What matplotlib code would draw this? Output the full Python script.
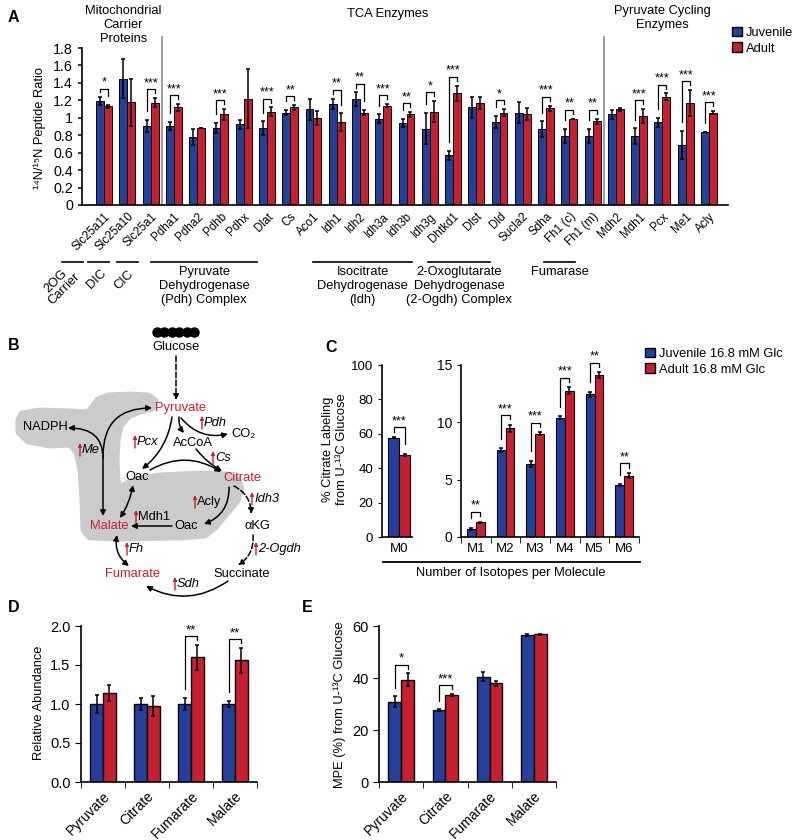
import numpy as np
import matplotlib
matplotlib.use('Agg')
import matplotlib.pyplot as plt
from matplotlib import transforms
from matplotlib.patches import Polygon, Patch

plt.rcParams['font.family'] = ['Liberation Sans', 'DejaVu Sans']

BLUE = '#253f9c'
RED = '#c8202f'
W, H = 800, 840

# ---------------- data: panel A ----------------
genes = ['Slc25a11', 'Slc25a10', 'Slc25a1', 'Pdha1', 'Pdha2', 'Pdhb', 'Pdhx', 'Dlat', 'Cs', 'Aco1',
         'Idh1', 'Idh2', 'Idh3a', 'Idh3b', 'Idh3g', 'Dhtkd1', 'Dlst', 'Dld', 'Sucla2', 'Sdha',
         'Fh1 (c)', 'Fh1 (m)', 'Mdh2', 'Mdh1', 'Pcx', 'Me1', 'Acly']
juv = [1.19, 1.45, 0.905, 0.905, 0.78, 0.88, 0.925, 0.88, 1.06, 1.10,
       1.16, 1.21, 0.99, 0.94, 0.875, 0.57, 1.12, 0.955, 1.06, 0.87,
       0.79, 0.79, 1.04, 0.79, 0.95, 0.69, 0.835]
juv_err = [0.045, 0.22, 0.07, 0.05, 0.09, 0.06, 0.05, 0.08, 0.03, 0.12,
           0.06, 0.08, 0.05, 0.05, 0.18, 0.05, 0.12, 0.07, 0.12, 0.09,
           0.08, 0.08, 0.05, 0.09, 0.05, 0.16, 0.0]
adu = [1.13, 1.18, 1.175, 1.12, 0.88, 1.04, 1.22, 1.07, 1.12, 1.0,
       0.95, 1.06, 1.14, 1.04, 1.07, 1.28, 1.17, 1.06, 1.04, 1.11,
       0.99, 0.96, 1.095, 1.02, 1.24, 1.17, 1.06]
adu_err = [0.02, 0.27, 0.05, 0.04, 0.0, 0.06, 0.34, 0.05, 0.03, 0.08,
           0.10, 0.03, 0.02, 0.03, 0.12, 0.09, 0.07, 0.04, 0.07, 0.03,
           0.0, 0.03, 0.02, 0.08, 0.04, 0.15, 0.02]
sig_a = ['*', '', '***', '***', '', '***', '', '***', '**', '', '**', '**', '***', '**', '*',
         '***', '', '*', '', '***', '**', '**', '', '***', '***', '***', '***']
yticks_a = [0, 0.2, 0.4, 0.6, 0.8, 1.0, 1.2, 1.4, 1.6, 1.8]
ytick_labels_a = ['0', '0.2', '0.4', '0.6', '0.8', '1', '1.2', '1.4', '1.6', '1.8']

# ---------------- data: panel C ----------------
isotopes = ['M0', 'M1', 'M2', 'M3', 'M4', 'M5', 'M6']
c_juv = [57.8, 0.70, 7.58, 6.38, 10.41, 12.45, 4.52]
c_juv_err = [0.5, 0.12, 0.15, 0.25, 0.1, 0.2, 0.08]
c_adu = [47.8, 1.28, 9.48, 9.0, 12.74, 14.1, 5.36]
c_adu_err = [0.6, 0.07, 0.3, 0.12, 0.3, 0.25, 0.2]
sig_c = ['***', '**', '***', '***', '***', '**', '**']

# ---------------- data: panels D, E ----------------
metabolites = ['Pyruvate', 'Citrate', 'Fumarate', 'Malate']
d_juv = [1.0, 1.0, 1.0, 1.0]
d_juv_err = [0.12, 0.08, 0.08, 0.04]
d_adu = [1.14, 0.97, 1.60, 1.56]
d_adu_err = [0.10, 0.13, 0.16, 0.16]
sig_d = ['', '', '**', '**']
e_juv = [30.9, 27.7, 40.5, 56.5]
e_juv_err = [2.0, 0.3, 1.8, 0.3]
e_adu = [39.3, 33.5, 38.0, 56.9]
e_adu_err = [2.5, 0.5, 1.0, 0.2]
sig_e = ['*', '***', '', '']

fig = plt.figure(figsize=(8, 8.4), dpi=100)


def px_axes(l, t, r, b):
    return fig.add_axes([l / W, 1 - b / H, (r - l) / W, (b - t) / H])


def style(ax):
    for s in ['top', 'right']:
        ax.spines[s].set_visible(False)
    for s in ['left', 'bottom']:
        ax.spines[s].set_linewidth(1.2)


def bars(ax, x, a, ae, b, be, w, lw=0.8):
    ek = dict(elinewidth=1.1, capsize=1.6, capthick=1.1, ecolor='k')
    ax.bar(x - w / 2, a, w, color=BLUE, edgecolor='k', lw=lw, yerr=ae, error_kw=ek)
    ax.bar(x + w / 2, b, w, color=RED, edgecolor='k', lw=lw, yerr=be, error_kw=ek)


def bracket(ax, x, w, hb, hr, stars, d, fs=9):
    if not stars:
        return
    top = max(hb, hr) + d
    short = d * 0.45
    xl, xr = x - w / 2, x + w / 2
    yl = min(top - short, hb + d)
    yr = min(top - short, hr + d)
    ax.plot([xl, xl, xr, xr], [yl, top, top, yr], color='k', lw=0.9, clip_on=False)
    ax.text((xl + xr) / 2, top, stars, ha='center', va='bottom', fontsize=fs)


# ---------------- panel A ----------------
axA = px_axes(82, 48, 728, 205)
xa = np.arange(len(genes))
wa = 0.34
bars(axA, xa, juv, juv_err, adu, adu_err, wa, lw=0.7)
for i in range(len(genes)):
    bracket(axA, xa[i], wa, juv[i] + juv_err[i], adu[i] + adu_err[i], sig_a[i], 0.1)
axA.set_xlim(-0.95, 26.82)
axA.set_ylim(0, 1.8)
axA.set_yticks(yticks_a)
axA.set_yticklabels(ytick_labels_a, fontsize=10.3)
axA.set_xticks(xa)
axA.set_xticklabels(genes, rotation=45, ha='right', rotation_mode='anchor', fontsize=8.4)
axA.tick_params(axis='x', length=0, pad=4)
axA.tick_params(axis='y', length=3, width=1.1)
style(axA)
for xs in [2.5, 21.5]:
    axA.plot([xs, xs], [0, 1.93], color='#808080', lw=1.1, clip_on=False)

# ---------------- panel C ----------------
axC0 = px_axes(382, 365, 412, 537)
bars(axC0, np.array([0.0]), c_juv[:1], c_juv_err[:1], c_adu[:1], c_adu_err[:1], 0.37)
bracket(axC0, 0.0, 0.37, c_juv[0] + c_juv_err[0], c_adu[0] + c_adu_err[0], sig_c[0], 5.5)
axC0.set_xlim(-0.57, 0.43)
axC0.set_ylim(0, 100)
axC0.set_yticks([0, 20, 40, 60, 80, 100])
axC0.set_xticks([0])
axC0.set_xticklabels(isotopes[:1], fontsize=9.5)
axC0.tick_params(axis='x', length=0, pad=4)
axC0.tick_params(axis='y', length=3, labelsize=9.5)
style(axC0)

axC1 = px_axes(461, 365, 639, 537)
xc = np.arange(6)
bars(axC1, xc, c_juv[1:], c_juv_err[1:], c_adu[1:], c_adu_err[1:], 0.3)
for i in range(6):
    bracket(axC1, xc[i], 0.3, c_juv[i + 1] + c_juv_err[i + 1], c_adu[i + 1] + c_adu_err[i + 1],
            sig_c[i + 1], 0.85)
axC1.set_xlim(-0.5, 5.5)
axC1.set_ylim(0, 15)
axC1.set_yticks([0, 5, 10, 15])
axC1.set_xticks(xc)
axC1.set_xticklabels(isotopes[1:], fontsize=9.5)
axC1.set_xticks(np.arange(-0.5, 6, 1), minor=True)
axC1.tick_params(axis='x', which='major', length=0, pad=4)
axC1.tick_params(axis='x', which='minor', length=4)
axC1.tick_params(axis='y', length=3, labelsize=10)
style(axC1)


# ---------------- panels D, E ----------------
def small_panel(rect, a, ae, b, be, sig, ymax, ystep, fmt, d):
    ax = px_axes(*rect)
    x = np.arange(len(metabolites))
    bars(ax, x, a, ae, b, be, 0.29, lw=1.0)
    for i in range(len(x)):
        bracket(ax, x[i], 0.29, a[i] + ae[i], b[i] + be[i], sig[i], d, fs=9.5)
    ax.set_xlim(-0.5, 3.5)
    ax.set_ylim(0, ymax)
    yt = np.arange(0, ymax + ystep / 2, ystep)
    ax.set_yticks(yt)
    ax.set_yticklabels([fmt.format(v) for v in yt], fontsize=10.5)
    ax.set_xticks(x)
    ax.set_xticklabels(metabolites, rotation=45, ha='right', rotation_mode='anchor', fontsize=10)
    ax.set_xticks(np.arange(-0.5, 4, 1), minor=True)
    ax.tick_params(axis='x', which='major', length=0, pad=5)
    ax.tick_params(axis='x', which='minor', length=4)
    ax.tick_params(axis='y', length=4)
    style(ax)
    return ax


axD = small_panel((81, 626, 257, 782), d_juv, d_juv_err, d_adu, d_adu_err, sig_d, 2.0, 0.5, '{:.1f}', 0.11)
axE = small_panel((379, 626, 556, 782), e_juv, e_juv_err, e_adu, e_adu_err, sig_e, 60, 20, '{:.0f}', 3.3)

# ---------------- overlay (pixel coordinates) ----------------
ov = fig.add_axes([0, 0, 1, 1])
ov.set_xlim(0, W)
ov.set_ylim(H, 0)
ov.axis('off')
FS = 9.3

for lab, (x, y) in {'A': (8, 17), 'B': (8, 346), 'C': (325, 347), 'D': (8, 608), 'E': (302, 608)}.items():
    ov.text(x, y, lab, fontsize=11.5, fontweight='bold', va='center')

ov.text(40, 128, '¹⁴N/¹⁵N Peptide Ratio', rotation=90, ha='center', va='center', fontsize=FS)
ov.text(335, 449, '% Citrate Labeling\nfrom U-¹³C Glucose', rotation=90, ha='center', va='center',
        fontsize=FS, linespacing=1.15)
ov.text(39, 703, 'Relative Abundance', rotation=90, ha='center', va='center', fontsize=FS)
ov.text(340, 705, 'MPE (%) from U-¹³C Glucose', rotation=90, ha='center', va='center', fontsize=FS)
ov.plot([383, 640], [562, 562], color='k', lw=1.3)
ov.text(511, 573, 'Number of Isotopes per Molecule', ha='center', va='center', fontsize=FS)

# panel A group labels (x in data units, y in pixels)
tA = transforms.blended_transform_factory(axA.transData, ov.transData)
ov.text(0.82, 5, 'Mitochondrial\nCarrier\nProteins', transform=tA, ha='center', va='top', fontsize=FS,
        linespacing=1.22)
ov.text(12.2, 14, 'TCA Enzymes', transform=tA, ha='center', va='center', fontsize=FS)
ov.text(23.98, 5, 'Pyruvate Cycling\nEnzymes', transform=tA, ha='center', va='top', fontsize=FS,
        linespacing=1.22)

for x0, x1, lab in [(2.02, 6.57, 'Pyruvate\nDehydrogenase\n(Pdh) Complex'),
                    (8.98, 13.24, 'Isocitrate\nDehydrogenase\n(Idh)'),
                    (13.92, 16.59, '2-Oxoglutarate\nDehydrogenase\n(2-Ogdh) Complex'),
                    (18.91, 20.24, 'Fumarase')]:
    ov.plot([x0, x1], [262, 262], color='k', lw=1.2, transform=tA, clip_on=False)
    ov.text((x0 + x1) / 2, 266, lab, transform=tA, ha='center', va='top', fontsize=FS, linespacing=1.2)
for x0, x1, lab, xc_, yc_ in [(-1.80, -0.90, '2OG\nCarrier', -1.9, 285),
                              (-0.69, 0.21, 'DIC', -0.3, 279),
                              (0.56, 1.46, 'CIC', 0.86, 280)]:
    ov.plot([x0, x1], [262, 262], color='k', lw=1.2, transform=tA, clip_on=False)
    ov.text(xc_, yc_, lab, transform=tA, ha='center', va='center', rotation=45, fontsize=FS,
            linespacing=1.0)

# legends
fig.legend([Patch(facecolor=BLUE, edgecolor='k'), Patch(facecolor=RED, edgecolor='k')],
           ['Juvenile', 'Adult'], loc='upper left', bbox_to_anchor=(732 / W, 1 - 27 / H),
           frameon=False, fontsize=FS, handlelength=0.75, handleheight=0.75, handletextpad=0.3,
           labelspacing=0.25, borderpad=0, borderaxespad=0)
fig.legend([Patch(facecolor=BLUE, edgecolor='k'), Patch(facecolor=RED, edgecolor='k')],
           ['Juvenile 16.8 mM Glc', 'Adult 16.8 mM Glc'], loc='upper left',
           bbox_to_anchor=(645 / W, 1 - 348 / H), frameon=False, fontsize=FS, handlelength=0.75,
           handleheight=0.75, handletextpad=0.3, labelspacing=0.25, borderpad=0, borderaxespad=0)

# ---------------- panel B: pathway schematic ----------------
blob = [(22, 414), (40, 411), (70, 412), (88, 413), (93, 407), (98, 400), (108, 396), (130, 395),
        (148, 396), (155, 401), (152, 408), (140, 411), (128, 416), (120, 426), (117, 440),
        (116, 460), (117, 480), (120, 489), (128, 483), (140, 479), (160, 476), (200, 474),
        (228, 475), (238, 480), (241, 490), (236, 502), (225, 515), (215, 527), (205, 535),
        (180, 537), (120, 538), (90, 537), (84, 530), (83, 500), (81, 470), (77, 452),
        (70, 444), (50, 445), (28, 441), (19, 432), (19, 420)]
ov.add_patch(Polygon(blob, closed=True, facecolor='#cbcbcb', edgecolor='#cbcbcb', lw=5,
                     joinstyle='round', zorder=0))


def txt(x, y, s, color='k'):
    ov.text(x, y, s, color=color, ha='center', va='center', fontsize=FS, zorder=3)


def arrow(p0, p1, rad=0.0, st='-|>', ls='-', conn=None):
    cs = conn if conn else 'arc3,rad=%s' % rad
    ov.annotate('', xy=p1, xytext=p0, zorder=2,
                arrowprops=dict(arrowstyle=st, color='k', lw=1.1, linestyle=ls, shrinkA=0,
                                shrinkB=0, mutation_scale=8, connectionstyle=cs))


def up(x, y, s, italic=True):
    ov.annotate('', xy=(x, y - 7), xytext=(x, y + 6), zorder=3,
                arrowprops=dict(arrowstyle='-|>', color=RED, lw=1.0, shrinkA=0, shrinkB=0,
                                mutation_scale=5))
    ov.text(x + 2, y, s, style='italic' if italic else 'normal', ha='left', va='center',
            fontsize=FS, zorder=3)


ov.plot(np.linspace(157, 194, 6), [332] * 6, 'o', color='k', ms=6.5)
txt(176, 347, 'Glucose')
txt(181, 408, 'Pyruvate', RED)
txt(45, 427, 'NADPH')
txt(193, 443, 'AcCoA')
txt(244, 434, 'CO₂')
txt(137, 477, 'Oac')
txt(242, 478, 'Citrate', RED)
txt(109, 526, 'Malate', RED)
txt(186, 526, 'Oac')
txt(257, 526, 'αKG')
txt(133, 574, 'Fumarate', RED)
txt(242, 574, 'Succinate')
up(80, 450, 'Me')
up(135, 442, 'Pcx')
up(202, 423, 'Pdh')
up(213, 458, 'Cs')
up(195, 502, 'Acly', italic=False)
up(252, 499, 'Idh3')
up(136, 517, 'Mdh1', italic=False)
up(127, 549, 'Fh')
up(256, 549, '2-Ogdh')
up(175, 584, 'Sdh')

arrow((176, 356), (176, 400), ls='--')
arrow((172, 417), (142, 469), rad=-0.2)
arrow((179, 417), (184, 433), rad=0.2)
arrow((181, 418), (228, 434), rad=0.3)
arrow((196, 449), (222, 471), rad=0.1)
arrow((150, 470), (221, 472), rad=-0.3)
arrow((229, 487), (204, 524), rad=-0.35)
arrow((234, 486), (251, 514), rad=-0.3, ls='--')
arrow((172, 526), (131, 526))
arrow((120, 518), (133, 485), rad=0.1, st='<|-|>')
arrow((117, 535), (129, 566), rad=0.3, st='<|-|>')
arrow((253, 535), (238, 565), rad=-0.3, ls='--')
arrow((228, 581), (146, 586), rad=-0.3)
arrow((103, 453), (103, 516))
arrow((103, 456), (152, 408), conn='angle3,angleA=90,angleB=0')
arrow((103, 458), (68, 428), conn='angle3,angleA=90,angleB=0')

fig.savefig('out.png', dpi=100)
